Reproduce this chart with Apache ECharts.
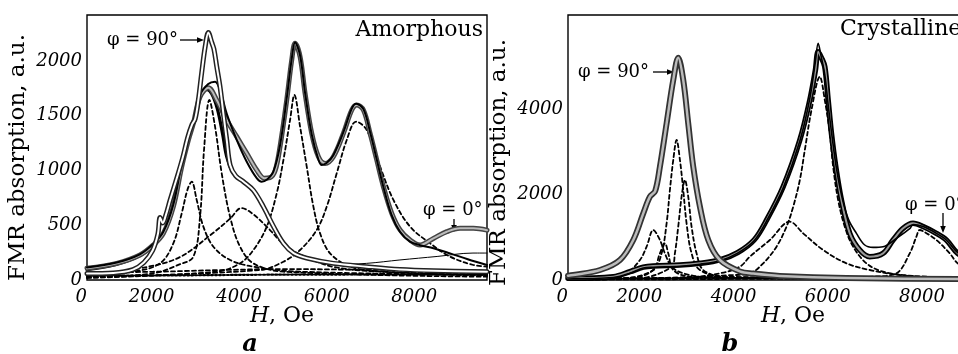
<!DOCTYPE html>
<html><head><meta charset="utf-8">
<script src="https://cdn.jsdelivr.net/npm/echarts@6/dist/echarts.min.js"></script>
<style>html,body{margin:0;padding:0;background:#fff}#c{width:958px;height:354px}</style>
</head><body><div id="c"></div>
<script>
// ---------- tick labels ----------
const xTicks = [0, 2000, 4000, 6000, 8000];
const yTicksA = [0, 500, 1000, 1500, 2000];
const yTicksB = [0, 2000, 4000];

// ---------- panel a : Amorphous ----------
const aSq90 = [[0,60],[600,65],[1050,95],[1300,160],[1500,270],[1620,420],[1670,570],[1730,520],[1800,590],[1900,730],[2060,940],[2190,1120],[2300,1300],[2400,1420],[2470,1470],[2545,1644],[2620,1890],[2700,2130],[2773,2260],[2850,2170],[2900,2110],[2964,1950],[3040,1765],[3116,1520],[3193,1280],[3270,1050],[3400,950],[3570,900],[3800,820],[4030,670],[4260,490],[4490,335],[4720,245],[5020,200],[5630,152],[6390,122],[7150,97],[7920,85],[9140,76]];
const aMid = [[0,95],[650,140],[1200,220],[1500,310],[1750,430],[1970,660],[2160,1020],[2310,1270],[2430,1420],[2580,1660],[2740,1740],[2850,1700],[2980,1560],[3100,1330],[3190,1130],[3345,975],[3570,900],[3800,822],[4030,670],[4260,487],[4490,335],[4720,244],[5020,198],[5630,152],[6390,122],[7150,97],[7920,85],[9140,76]];
const aCirc0 = [[0,107],[680,152],[1210,228],[1516,320],[1745,426],[1973,670],[2164,1035],[2316,1278],[2430,1430],[2583,1674],[2773,1755],[2964,1644],[3192,1461],[3421,1309],[3650,1157],[3878,1004],[4050,930],[4180,935],[4300,1000],[4411,1218],[4564,1644],[4678,2009],[4754,2161],[4869,2039],[4983,1705],[5135,1339],[5288,1126],[5440,1065],[5630,1126],[5859,1339],[6050,1552],[6164,1598],[6316,1552],[6469,1339],[6621,1096],[6773,852],[6964,609],[7154,457],[7383,365],[7611,320],[7916,380],[8221,441],[8526,472],[8830,472],[9140,455]];
const aFit0 = [[0,115],[680,160],[1210,235],[1516,330],[1745,440],[1973,690],[2164,1060],[2316,1300],[2430,1450],[2583,1690],[2770,1790],[2926,1811],[3050,1720],[3192,1520],[3421,1280],[3650,1080],[3878,930],[3992,898],[4107,915],[4259,990],[4411,1230],[4564,1660],[4678,2020],[4754,2170],[4869,2050],[4983,1710],[5135,1330],[5288,1100],[5364,1050],[5480,1070],[5630,1140],[5859,1350],[6050,1565],[6149,1610],[6316,1560],[6469,1350],[6621,1100],[6773,850],[6964,590],[7154,440],[7383,350],[7611,318],[7916,290],[8297,243],[8700,190],[9140,137]];
const aThin = [[4500,330],[4720,240],[5020,190],[5630,140],[6390,152],[7150,183],[8000,215],[8820,246],[9140,246]];
const aD1 = [[0,30],[1059,76],[1669,152],[1973,335],[2164,609],[2300,830],[2392,898],[2507,731],[2659,487],[2888,304],[3269,183],[3802,122],[4869,76],[9140,45]];
const aD2 = [[0,20],[1500,60],[2100,140],[2430,213],[2583,578],[2674,1187],[2796,1644],[2926,1400],[3078,974],[3269,578],[3497,304],[3802,152],[4488,76],[9140,30]];
const aD3 = [[0,40],[1371,119],[2126,210],[2880,429],[3269,560],[3530,657],[3800,600],[4114,484],[4571,301],[5166,183],[5630,120],[6500,80],[9140,50]];
const aD4 = [[0,20],[2964,76],[3497,152],[3802,274],[4107,487],[4335,791],[4488,1096],[4640,1461],[4739,1690],[4869,1400],[5021,1035],[5173,670],[5326,426],[5554,244],[6011,122],[6773,76],[9140,40]];
const aD5 = [[0,25],[3954,91],[4488,167],[4869,274],[5249,457],[5478,670],[5706,974],[5935,1278],[6149,1446],[6392,1370],[6697,1035],[7002,731],[7383,487],[7840,335],[8297,213],[8830,137],[9140,122]];
const aD6 = [[0,70],[1500,75],[3000,90],[4500,100],[6000,95],[7500,90],[9140,85]];
const aD7 = [[0,40],[2000,42],[4000,48],[6000,50],[9140,50]];

// ---------- panel b : Crystalline ----------
const bStar90 = [[0,100],[113,117],[679,234],[1103,468],[1386,936],[1598,1559],[1739,1950],[1850,2080],[1951,2651],[2093,3665],[2234,4678],[2340,5200],[2446,4678],[2552,3665],[2658,2651],[2800,1715],[2977,936],[3224,468],[3648,200],[3931,150],[4497,94],[5911,45],[9000,20]];
const bCirc0 = [[0,39],[962,78],[1315,195],[1598,300],[1810,330],[2376,350],[2800,390],[3224,470],[3600,640],[3950,936],[4214,1400],[4567,2183],[4921,3275],[5133,4210],[5250,4900],[5310,5340],[5380,5200],[5451,4990],[5522,4210],[5592,3431],[5684,2651],[5804,1871],[5981,1092],[6193,702],[6405,546],[6688,624],[6900,936],[7112,1209],[7324,1325],[7537,1250],[7819,1092],[8031,936],[8272,624],[8600,420],[9000,300]];
const bFit0 = [[0,30],[962,60],[1315,160],[1598,280],[1810,300],[2376,320],[2800,370],[3224,450],[3600,630],[3950,920],[4214,1380],[4567,2150],[4921,3250],[5133,4250],[5250,5100],[5310,5536],[5370,5250],[5451,4800],[5522,4100],[5600,3400],[5700,2600],[5830,1871],[5960,1400],[6122,1092],[6299,819],[6476,764],[6688,780],[6971,975],[7254,1200],[7324,1300],[7537,1250],[7819,1092],[8031,936],[8272,640],[8600,430],[9000,300]];
const bD1 = [[0,15],[1200,40],[1810,234],[1987,624],[2093,1325],[2163,2105],[2234,2807],[2305,3275],[2376,2807],[2446,2105],[2517,1325],[2623,624],[2800,234],[3400,60],[9000,15]];
const bD2 = [[0,10],[1500,40],[2199,312],[2269,624],[2340,1248],[2411,1949],[2482,2339],[2552,1949],[2623,1248],[2729,624],[2870,234],[3300,80],[9000,10]];
const bD3 = [[0,20],[900,60],[1244,156],[1527,468],[1669,780],[1810,1170],[1951,936],[2057,624],[2199,312],[2446,156],[3000,60],[9000,15]];
const bD4 = [[0,15],[1400,60],[1810,234],[1951,624],[2057,858],[2128,624],[2234,234],[2600,80],[9000,15]];
const bD5 = [[0,20],[2500,60],[3400,110],[3860,156],[4143,390],[4426,780],[4638,1248],[4780,1715],[4921,2339],[5027,3041],[5168,3976],[5345,4756],[5451,4210],[5557,3431],[5628,2651],[5734,1871],[5875,1248],[6052,780],[6335,390],[6688,195],[7400,90],[9000,40]];
const bD6 = [[0,15],[2500,60],[3224,156],[3648,312],[3860,546],[4284,936],[4709,1364],[4991,1092],[5416,702],[5911,390],[6405,234],[7042,117],[7749,62],[9000,30]];
const bD7 = [[0,10],[5500,40],[6500,80],[6971,156],[7254,624],[7395,1014],[7466,1170],[7600,1100],[7819,936],[8102,624],[8272,390],[8600,200],[9000,110]];
const bD8 = [[0,25],[3000,45],[6000,50],[9000,40]];

const FONT = 'DejaVu Serif';
const chart = echarts.init(document.getElementById('c'), null, {renderer: 'canvas'});

function ln(data, idx, color, width, type, z) {
  return {type: 'line', xAxisIndex: idx, yAxisIndex: idx, data: data, symbol: 'none',
    smooth: 0.35, silent: true, z: z, animation: false,
    lineStyle: {color: color, width: width, type: type || 'solid', cap: 'round', join: 'round'}};
}
const DASH = [4, 3];

function xAxisDef(idx, max) {
  return {type: 'value', gridIndex: idx, min: 0, max: max, interval: 2000,
    axisLine: {show: false}, axisTick: {show: false}, splitLine: {show: false},
    axisLabel: {show: true, margin: 8, align: 'right', showMaxLabel: false,
      fontFamily: FONT, fontStyle: 'italic', fontSize: 18, color: '#000',
      formatter: v => xTicks.includes(v) ? String(v) : ''}};
}
function yAxisDef(idx, max, interval, ticks, shift) {
  return {type: 'value', gridIndex: idx, min: 0, max: max, interval: interval,
    axisLine: {show: false}, axisTick: {show: false}, splitLine: {show: false},
    name: 'FMR absorption, a.u.', nameLocation: 'middle', nameRotate: 90, nameGap: 57,
    nameTextStyle: {fontFamily: FONT, fontSize: 23, color: '#000', padding: [0, shift, 0, 0]},
    axisLabel: {show: true, margin: 5, showMaxLabel: false,
      fontFamily: FONT, fontStyle: 'italic', fontSize: 18, color: '#000',
      formatter: v => ticks.includes(v) ? String(v) : ''}};
}

function arrowH(x1, x2, y) {
  return [{type: 'line', shape: {x1: x1, y1: y, x2: x2 - 5, y2: y}, style: {stroke: '#000', lineWidth: 1.3}},
          {type: 'polygon', shape: {points: [[x2, y], [x2 - 7, y - 2.8], [x2 - 7, y + 2.8]]}, style: {fill: '#000'}}];
}
function arrowV(x, y1, y2) {
  return [{type: 'line', shape: {x1: x, y1: y1, x2: x, y2: y2 - 5}, style: {stroke: '#000', lineWidth: 1.3}},
          {type: 'polygon', shape: {points: [[x, y2], [x - 2.8, y2 - 7], [x + 2.8, y2 - 7]]}, style: {fill: '#000'}}];
}
function txt(x, y, s, size, align, extra) {
  return {type: 'text', x: x, y: y, style: Object.assign({text: s, fill: '#000',
    font: size + 'px "' + FONT + '"', align: align || 'left', verticalAlign: 'middle'}, extra || {})};
}
const richH = {i: {fontFamily: FONT, fontStyle: 'italic', fontSize: 22, fill: '#000'}, r: {fontFamily: FONT, fontSize: 22, fill: '#000'}};

const option = {
  backgroundColor: '#fff',
  animation: false,
  grid: [
    {left: 87, top: 15, width: 400, height: 265, show: true, borderColor: '#000', borderWidth: 1.4, backgroundColor: 'transparent', outerBoundsMode: 'none', containLabel: false},
    {left: 568, top: 15, width: 424, height: 265, show: true, borderColor: '#000', borderWidth: 1.4, backgroundColor: 'transparent', outerBoundsMode: 'none', containLabel: false}
  ],
  xAxis: [xAxisDef(0, 9140), xAxisDef(1, 9000)],
  yAxis: [yAxisDef(0, 2420, 500, yTicksA, 20), yAxisDef(1, 6200, 2000, yTicksB, 30)],
  series: [
    ln(aD1, 0, '#000', 1.8, DASH, 2), ln(aD2, 0, '#000', 1.8, DASH, 2), ln(aD3, 0, '#000', 1.8, DASH, 2),
    ln(aD4, 0, '#000', 1.8, DASH, 2), ln(aD5, 0, '#000', 1.8, DASH, 2), ln(aD6, 0, '#000', 1.8, DASH, 2),
    ln(aD7, 0, '#000', 2.2, [2, 2], 2),
    ln(aThin, 0, '#000', 1, 'solid', 3),
    ln(aMid, 0, '#000', 3.2, 'solid', 4),
    ln(aCirc0, 0, '#444', 5, 'solid', 5), ln(aCirc0, 0, '#bbb', 2, 'solid', 6),
    ln(aFit0, 0, '#000', 2, 'solid', 7),
    ln(aSq90, 0, '#222', 5, 'solid', 8), ln(aSq90, 0, '#fff', 2, 'solid', 9),

    ln(bD1, 1, '#000', 1.8, DASH, 2), ln(bD2, 1, '#000', 1.8, DASH, 2), ln(bD3, 1, '#000', 1.8, DASH, 2),
    ln(bD4, 1, '#000', 1.8, DASH, 2), ln(bD5, 1, '#000', 1.8, DASH, 2), ln(bD6, 1, '#000', 1.8, DASH, 2),
    ln(bD7, 1, '#000', 1.8, DASH, 2), ln(bD8, 1, '#000', 2.2, [2, 2], 2),
    ln(bCirc0, 1, '#000', 5.5, 'solid', 5), ln(bCirc0, 1, '#999', 2, 'solid', 6),
    ln(bFit0, 1, '#000', 1.6, 'solid', 7),
    ln(bStar90, 1, '#333', 6, 'solid', 8), ln(bStar90, 1, '#bbb', 2.5, 'solid', 9)
  ],
  graphic: [].concat(
    [txt(107, 40, 'φ = 90°', 18), txt(483, 30, 'Amorphous', 22, 'right'), txt(423, 210, 'φ = 0°', 18)],
    arrowH(180, 204, 40), arrowV(454, 219, 232),
    [txt(578, 72, 'φ = 90°', 18), txt(840, 29, 'Crystalline', 22), txt(905, 205, 'φ = 0°', 18)],
    arrowH(653, 674, 72), arrowV(943, 213, 233),
    [{type: 'text', x: 282, y: 316, style: {text: '{i|H}{r|, Oe}', rich: richH, align: 'center', verticalAlign: 'middle'}},
     {type: 'text', x: 793, y: 316, style: {text: '{i|H}{r|, Oe}', rich: richH, align: 'center', verticalAlign: 'middle'}},
     txt(250, 345, 'a', 24, 'center', {font: 'italic bold 24px "' + FONT + '"'}),
     txt(730, 345, 'b', 24, 'center', {font: 'italic bold 24px "' + FONT + '"'})]
  )
};
chart.setOption(option);
</script></body></html>
